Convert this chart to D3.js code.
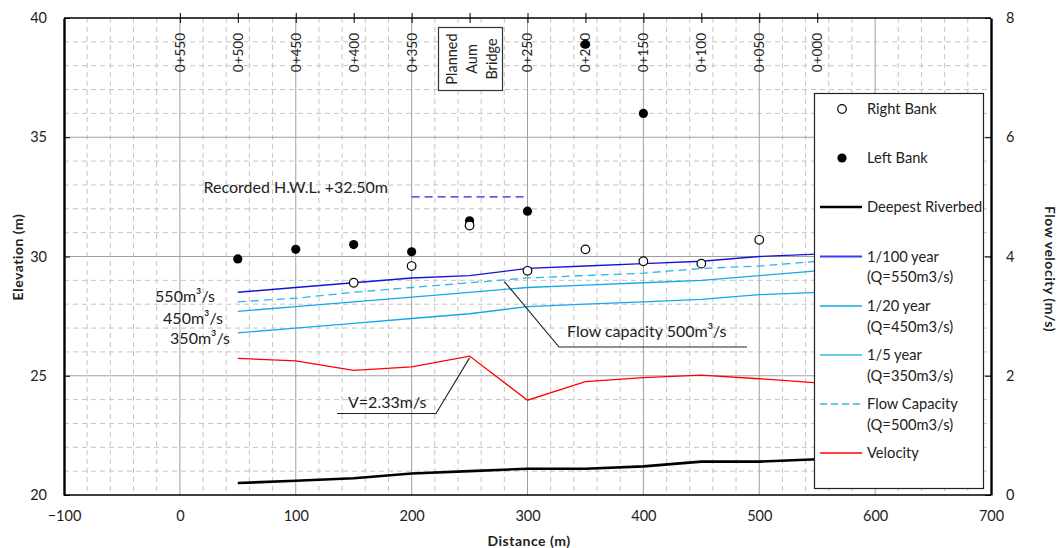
<!DOCTYPE html>
<html><head><meta charset="utf-8">
<script src="https://cdn.jsdelivr.net/npm/d3@7"></script>
<style>
body{margin:0;background:#fff;}
svg{display:block;font-family:Lato,"Open Sans",sans-serif;}
</style></head>
<body><svg id="c" width="1062" height="548"></svg>
<script>
// ---- data ----
const distance = [50,100,150,200,250,300,350,400,450,500,550];
const riverbed = [20.5,20.6,20.7,20.9,21.0,21.1,21.1,21.2,21.4,21.4,21.5];
const q100 = [28.5,28.7,28.9,29.1,29.2,29.5,29.6,29.7,29.8,30.0,30.1];
const qCapacity = [28.1,28.25,28.5,28.7,28.9,29.1,29.2,29.3,29.5,29.6,29.8];
const q20 = [27.7,27.9,28.1,28.3,28.5,28.7,28.8,28.9,29.0,29.2,29.4];
const q5 = [26.8,27.0,27.2,27.4,27.6,27.9,28.0,28.1,28.2,28.4,28.5];
const velocity = [2.29,2.25,2.09,2.15,2.33,1.59,1.90,1.97,2.01,1.95,1.88];
const rightBankX = [150,200,250,300,350,400,450,500];
const rightBank = [28.9,29.6,31.3,29.4,30.3,29.8,29.7,30.7];
const leftBankX = [50,100,150,200,250,300,350,400];
const leftBank = [29.9,30.3,30.5,30.2,31.5,31.9,38.9,36.0];
const xTicks = [-100,0,100,200,300,400,500,600,700];
const yTicks = [20,25,30,35,40];
const vTicks = [0,2,4,6,8];
const stationX = [0,50,100,150,200,250,300,350,400,450,500,550];
const stationLabels = ["0+550","0+500","0+450","0+400","0+350","","0+250","0+200","0+150","0+100","0+050","0+000"];
const hwlX = [200,300], hwlLevel = 32.5;

const svg = d3.select("#c");
const L=64, R=991, T=18, B=495;
const x = d3.scaleLinear().domain([-100,700]).range([L,R]);
const y = d3.scaleLinear().domain([20,40]).range([B,T]);
const yv = d3.scaleLinear().domain([0,8]).range([B,T]);

// grid
const g = svg.append("g");
d3.range(-80,700,20).filter(v=>v%100!==0).forEach(v=>{
  g.append("line").attr("x1",x(v)).attr("x2",x(v)).attr("y1",T).attr("y2",B)
   .attr("stroke","#c4c4c4").attr("stroke-dasharray","5,4");
});
d3.range(21,40,1).filter(v=>v%5!==0).forEach(v=>{
  g.append("line").attr("x1",L).attr("x2",R).attr("y1",y(v)).attr("y2",y(v))
   .attr("stroke","#c4c4c4").attr("stroke-dasharray","5,4");
});
[0,100,200,300,400,500,600].forEach(v=>{
  g.append("line").attr("x1",x(v)).attr("x2",x(v)).attr("y1",T).attr("y2",B).attr("stroke","#a0a0a0");
});
[25,30,35].forEach(v=>{
  g.append("line").attr("x1",L).attr("x2",R).attr("y1",y(v)).attr("y2",y(v)).attr("stroke","#a0a0a0");
});

// axes
const fs = "14.5px";
const ax = svg.append("g").attr("transform",`translate(0,${B})`)
  .call(d3.axisBottom(x).tickValues(xTicks).tickSize(0).tickPadding(16).tickFormat(d3.format("d")));
const ay = svg.append("g").attr("transform",`translate(${L},0)`)
  .call(d3.axisLeft(y).tickValues(yTicks).tickSizeInner(-6).tickSizeOuter(0).tickPadding(17));
const av = svg.append("g").attr("transform",`translate(${R},0)`)
  .call(d3.axisRight(yv).tickValues(vTicks).tickSizeInner(-6).tickSizeOuter(0).tickPadding(15));
const at = svg.append("g").attr("transform",`translate(0,${T})`)
  .call(d3.axisTop(x).tickValues(stationX).tickSizeInner(5).tickSizeOuter(0).tickFormat(""));
at.selectAll(".tick line").attr("y2",5).attr("y1",-5);
[ax,ay,av,at].forEach(a=>{
  a.selectAll("text").attr("font-size",fs).attr("fill","#222").attr("font-family","Lato");
  a.selectAll(".tick line").attr("stroke","#000");
});
ax.select(".domain").attr("stroke","#000").attr("stroke-width",1.6);
at.select(".domain").attr("stroke","#000").attr("stroke-width",1.6);
ay.select(".domain").attr("stroke","#000").attr("stroke-width",2.4);
av.select(".domain").attr("stroke","#000").attr("stroke-width",2.4);
at.select(".domain").attr("d",`M${L},0H${R}`);
ax.select(".domain").attr("d",`M${L},0H${R}`);

// station labels
stationX.forEach((s,i)=>{
  if(!stationLabels[i]) return;
  svg.append("text").attr("transform",`translate(${x(s)},33) rotate(-90)`)
    .attr("text-anchor","end").attr("dy","0.36em").attr("font-size","13.5px").attr("fill","#222")
    .text(stationLabels[i]);
});

// bridge box
const bx = svg.append("g");
bx.append("rect").attr("x",438.5).attr("y",27.5).attr("width",64).attr("height",63)
  .attr("fill","#fff").attr("stroke","#333").attr("stroke-width",1.2);
["Planned","Aum","Bridge"].forEach((t,i)=>{
  bx.append("text").attr("transform",`translate(${452+i*20},59) rotate(-90)`)
    .attr("text-anchor","middle").attr("dy","0.36em").attr("font-size","14.5px").attr("fill","#222").text(t);
});

// axis titles
const tAttrs = s=>s.attr("font-size","14px").attr("font-weight","bold").attr("fill","#222").attr("letter-spacing","0.5px");
svg.append("text").attr("x",529).attr("y",541).attr("dy","0.36em").attr("text-anchor","middle")
  .call(tAttrs).text("Distance  (m)");
svg.append("text").attr("transform","translate(18,257) rotate(-90)").attr("text-anchor","middle")
  .attr("dy","0.36em").call(tAttrs).text("Elevation  (m)");
svg.append("text").attr("transform","translate(1050,269) rotate(90)").attr("text-anchor","middle")
  .attr("dy","0.36em").call(tAttrs).text("Flow velocity (m/s)");

// lines
const line = d3.line().x((d,i)=>x(distance[i])).y(d=>y(d));
const vline = d3.line().x((d,i)=>x(distance[i])).y(d=>yv(d));
svg.append("path").attr("d",line(riverbed)).attr("fill","none").attr("stroke","#000").attr("stroke-width",2.6);
svg.append("path").attr("d",line(q5)).attr("fill","none").attr("stroke","#14a8ea").attr("stroke-width",1.3);
svg.append("path").attr("d",line(q20)).attr("fill","none").attr("stroke","#14a8ea").attr("stroke-width",1.3);
svg.append("path").attr("d",line(qCapacity)).attr("fill","none").attr("stroke","#2ab6ee").attr("stroke-width",1.3).attr("stroke-dasharray","8,5");
svg.append("path").attr("d",line(q100)).attr("fill","none").attr("stroke","#1414d8").attr("stroke-width",1.4);
svg.append("path").attr("d",vline(velocity)).attr("fill","none").attr("stroke","#ff0000").attr("stroke-width",1.3);

// HWL
svg.append("line").attr("x1",x(hwlX[0])).attr("x2",x(hwlX[1])).attr("y1",y(hwlLevel)).attr("y2",y(hwlLevel))
  .attr("stroke","#2020e0").attr("stroke-width",1.3).attr("stroke-dasharray","8,5");
svg.append("text").attr("x",388).attr("y",y(hwlLevel)-4).attr("text-anchor","end")
  .attr("font-size","16px").attr("fill","#222").text("Recorded H.W.L. +32.50m");

// markers
svg.selectAll(".lb").data(leftBank).enter().append("circle")
  .attr("cx",(d,i)=>x(leftBankX[i])).attr("cy",d=>y(d)).attr("r",4.6).attr("fill","#000");
svg.selectAll(".rb").data(rightBank).enter().append("circle")
  .attr("cx",(d,i)=>x(rightBankX[i])).attr("cy",d=>y(d)).attr("r",4.3).attr("fill","#fff").attr("stroke","#000").attr("stroke-width",1.2);

// discharge labels
[["550m³/s",215,296],["450m³/s",223,318],["350m³/s",230,338]].forEach(a=>{
  svg.append("text").attr("x",a[1]).attr("y",a[2]).attr("dy","0.36em").attr("text-anchor","end")
    .attr("font-size","16px").attr("fill","#222").text(a[0]);
});

// flow capacity callout
svg.append("polyline").attr("points",`${x(280)},${y(28.95)} 559,347 747,347`)
  .attr("fill","none").attr("stroke","#222").attr("stroke-width",1.1);
svg.append("text").attr("x",567).attr("y",331).attr("dy","0.36em").attr("font-size","16px").attr("fill","#222")
  .text("Flow capacity  500m³/s");

// velocity callout
svg.append("polyline").attr("points",`${x(250)},${yv(2.3)} 436,413.5 337,413.5`)
  .attr("fill","none").attr("stroke","#222").attr("stroke-width",1.1);
svg.append("text").attr("x",348).attr("y",402).attr("dy","0.36em").attr("font-size","16px").attr("fill","#222")
  .text("V=2.33m/s");

// legend
const lg = svg.append("g");
lg.append("rect").attr("x",814.5).attr("y",93.5).attr("width",169).attr("height",395)
  .attr("fill","#fff").attr("stroke","#222").attr("stroke-width",1.2);
const items = [
  {type:"open",y:109,t:["Right Bank"]},
  {type:"fill",y:158,t:["Left Bank"]},
  {type:"line",y:207,c:"#000",w:2.6,t:["Deepest Riverbed"]},
  {type:"line",y:256.5,c:"#3a3aff",w:2,t:["1/100 year","(Q=550m3/s)"]},
  {type:"line",y:306,c:"#14a8ea",w:1.3,t:["1/20 year","(Q=450m3/s)"]},
  {type:"line",y:355,c:"#30b8ee",w:1.3,t:["1/5 year","(Q=350m3/s)"]},
  {type:"dash",y:404,c:"#30b8ee",w:1.6,t:["Flow Capacity","(Q=500m3/s)"]},
  {type:"line",y:453,c:"#ff0000",w:1.3,t:["Velocity"]}
];
items.forEach(it=>{
  if(it.type==="open") lg.append("circle").attr("cx",842).attr("cy",it.y).attr("r",4.3).attr("fill","#fff").attr("stroke","#000").attr("stroke-width",1.2);
  else if(it.type==="fill") lg.append("circle").attr("cx",842).attr("cy",it.y).attr("r",4.6).attr("fill","#000");
  else lg.append("line").attr("x1",820).attr("x2",862).attr("y1",it.y).attr("y2",it.y)
     .attr("stroke",it.c).attr("stroke-width",it.w).attr("stroke-dasharray",it.type==="dash"?"7,4":null);
  it.t.forEach((s,j)=>{
    lg.append("text").attr("x",867).attr("y",it.y+j*20.5).attr("dy","0.36em").attr("font-size","14.7px").attr("fill","#222").text(s);
  });
});
</script></body></html>
